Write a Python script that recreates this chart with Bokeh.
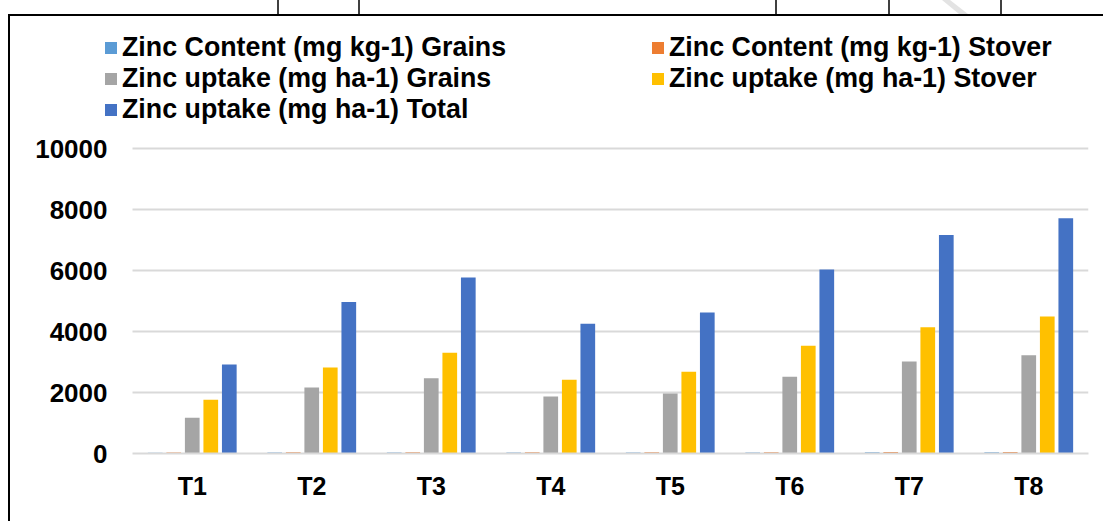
from bokeh.plotting import figure
from bokeh.models import (ColumnDataSource, Range1d, Legend, LegendItem,
                          Div, FixedTicker)
from bokeh.layouts import column
from bokeh.transform import dodge
from bokeh.embed import file_html
from bokeh.resources import INLINE

treatments = ["T1", "T2", "T3", "T4", "T5", "T6", "T7", "T8"]
content_grains = [28, 32, 34, 30, 31, 35, 38, 40]
content_stover = [34, 40, 44, 38, 40, 45, 48, 50]
uptake_grains = [1170, 2165, 2470, 1870, 1970, 2520, 3020, 3225]
uptake_stover = [1760, 2820, 3300, 2420, 2680, 3530, 4140, 4490]
uptake_total = [2920, 4965, 5770, 4255, 4620, 6030, 7160, 7715]
y_ticks = [0, 2000, 4000, 6000, 8000, 10000]

series_names = ["Zinc Content (mg kg-1) Grains", "Zinc Content (mg kg-1) Stover",
                "Zinc uptake (mg ha-1) Grains", "Zinc uptake (mg ha-1) Stover",
                "Zinc uptake (mg ha-1) Total"]
series_keys = ["cg", "cs", "ug", "us", "ut"]
colors = ["#5B9BD5", "#ED7D31", "#A5A5A5", "#FFC000", "#4472C4"]

positions = [i + 1 for i in range(len(treatments))]
source = ColumnDataSource(dict(x=positions, cg=content_grains, cs=content_stover,
                               ug=uptake_grains, us=uptake_stover, ut=uptake_total))

FONT = "Liberation Sans"
n = len(treatments)

p = figure(x_range=Range1d(0.2322, n + 0.5), y_range=Range1d(0, 13869),
           width=1095, height=505, output_backend="svg", toolbar_location=None,
           min_border_left=100, min_border_right=7, min_border_top=30,
           min_border_bottom=52)
p.outline_line_color = None
p.background_fill_color = "white"
p.border_fill_color = "white"

offsets = [-0.31, -0.155, 0.0, 0.155, 0.31]
renderers = []
for key, col, off in zip(series_keys, colors, offsets):
    renderers.append(p.vbar(x=dodge("x", off), top=key, width=0.123,
                            source=source, fill_color=col, line_color=None))

p.xgrid.grid_line_color = None
p.ygrid.grid_line_color = "#d9d9d9"
p.ygrid.grid_line_width = 2
p.ygrid.ticker = FixedTicker(ticks=y_ticks)
try:
    p.ygrid.cross_bounds = (0.5, n + 0.5)
except Exception:
    pass
p.yaxis.ticker = FixedTicker(ticks=y_ticks)
p.yaxis.axis_line_color = None
p.yaxis.major_tick_line_color = None
p.yaxis.minor_tick_line_color = None
p.yaxis.major_tick_out = 0
p.yaxis.major_label_standoff = -7
p.xaxis.ticker = FixedTicker(ticks=positions)
p.xaxis.major_label_overrides = {pos: t for pos, t in zip(positions, treatments)}
p.xaxis.bounds = (0.5, n + 0.5)
p.xaxis.axis_line_color = "#d9d9d9"
p.xaxis.axis_line_width = 2
p.xaxis.major_tick_line_color = None
p.xaxis.minor_tick_line_color = None
p.xaxis.major_tick_out = 0
p.xaxis.major_label_standoff = 18
for ax, fs in ((p.xaxis[0], "25px"), (p.yaxis[0], "26px")):
    ax.major_label_text_font = FONT
    ax.major_label_text_font_style = "bold"
    ax.major_label_text_font_size = fs
    ax.major_label_text_color = "black"

order = [0, 2, 4, 1, 3]
items = [LegendItem(label=series_names[i], renderers=[renderers[i]]) for i in order]
legend = Legend(items=items, ncols=2, location=(3, 328),
                label_text_font=FONT, label_text_font_style="bold",
                label_text_font_size="26.8px", label_text_color="black",
                glyph_width=15, glyph_height=15, label_standoff=4,
                label_width=528, spacing=0, padding=0, margin=0,
                border_line_color=None, background_fill_alpha=0)
p.add_layout(legend, "center")

overlay = """
<div style="position:fixed;left:0;top:0;width:1103px;height:521px;pointer-events:none;">
<svg width="1103" height="521" xmlns="http://www.w3.org/2000/svg">
<polygon points="942,0 950,0 968,14 959,14" fill="#e3e3e3"/>
<line x1="8" y1="15" x2="1103" y2="15" stroke="black" stroke-width="2"/>
<line x1="9" y1="14" x2="9" y2="521" stroke="black" stroke-width="2"/>
<line x1="278" y1="0" x2="278" y2="15" stroke="black" stroke-width="1.5"/>
<line x1="359" y1="0" x2="359" y2="15" stroke="black" stroke-width="1.5"/>
<line x1="776" y1="0" x2="776" y2="15" stroke="black" stroke-width="1.5"/>
<line x1="889" y1="0" x2="889" y2="15" stroke="black" stroke-width="1.5"/>
<line x1="1001" y1="0" x2="1001" y2="15" stroke="black" stroke-width="1.5"/>
</svg></div>
"""
div = Div(text=overlay, width=1095, height=1)

layout = column(p, div)
open("out.html", "w").write(file_html(layout, INLINE))
